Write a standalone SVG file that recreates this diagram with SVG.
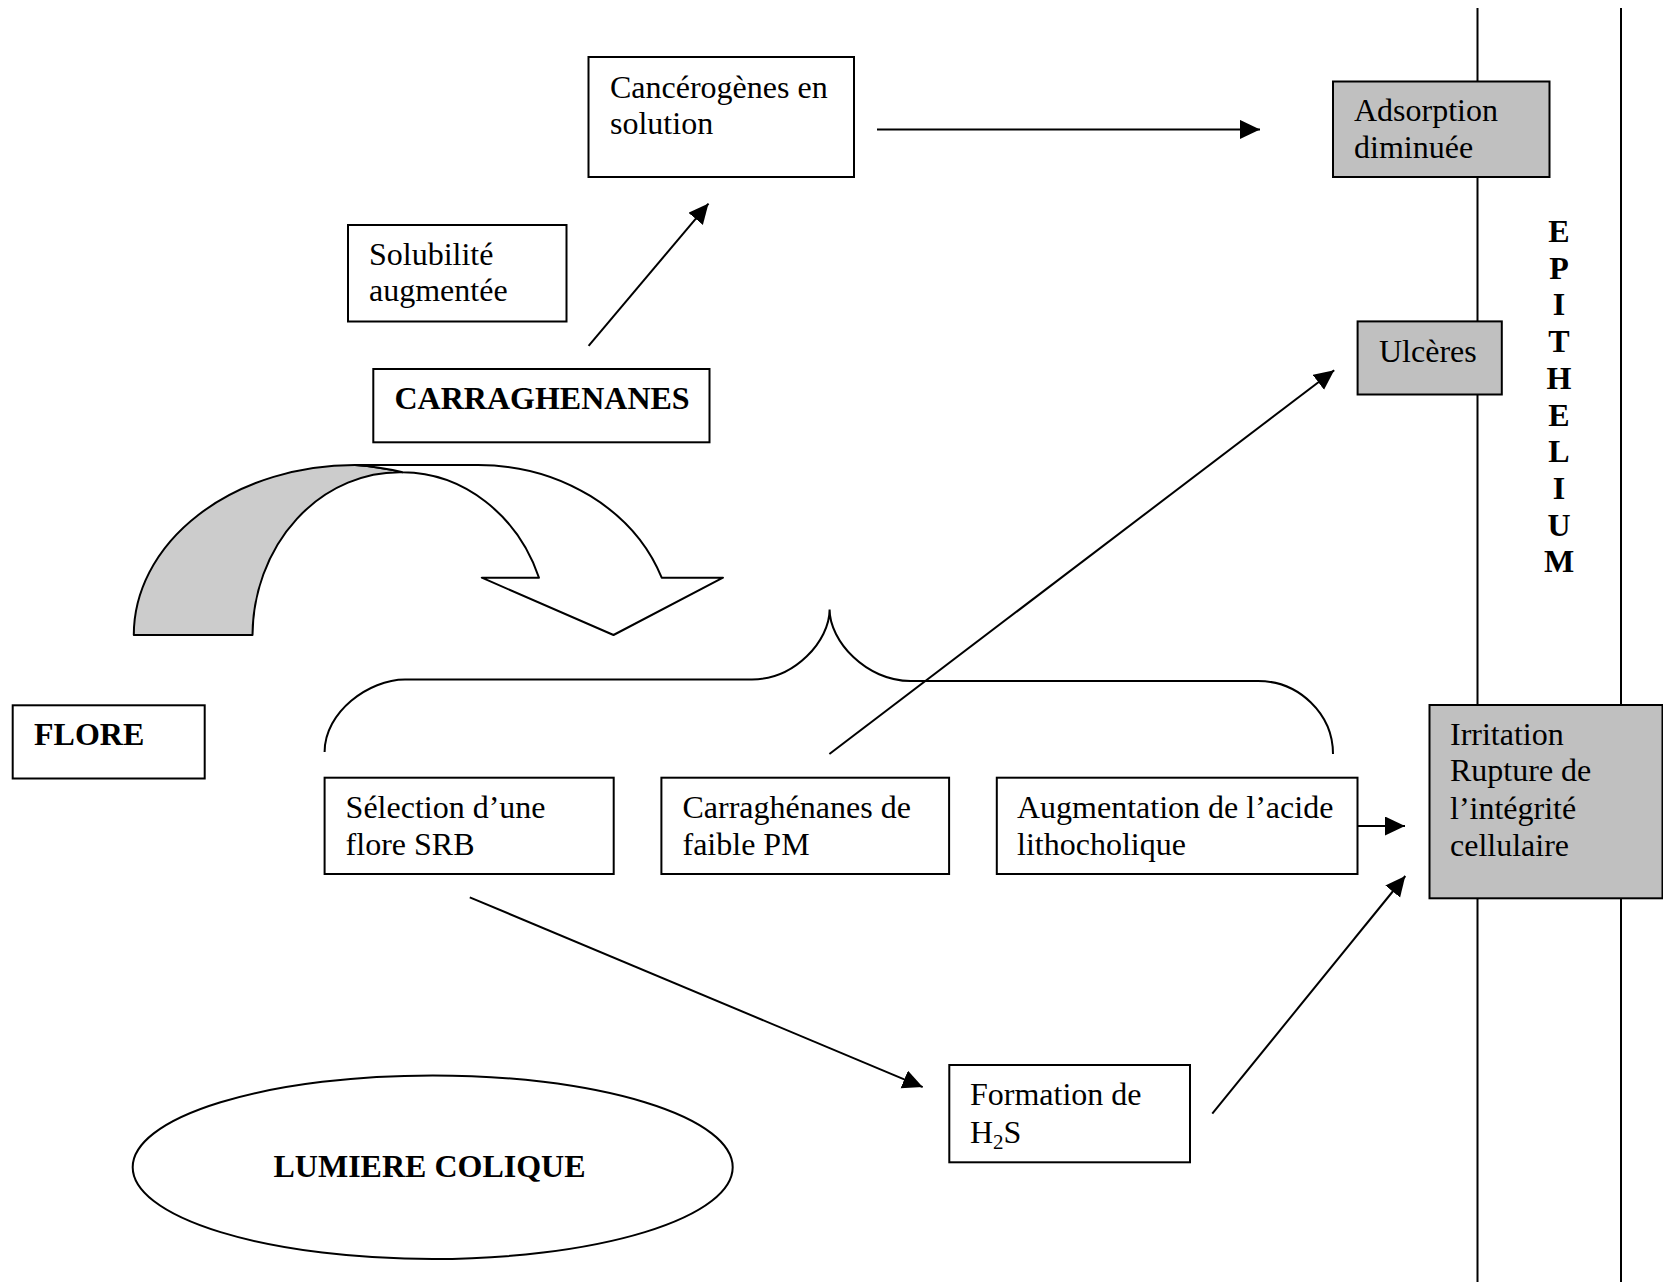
<svg xmlns="http://www.w3.org/2000/svg" width="1663" height="1282" viewBox="0 0 1663 1282">
<style>
.box{fill:#fff;stroke:#000;stroke-width:2}
.gbox{fill:#c0c0c0;stroke:#000;stroke-width:2}
.t{font-family:"Liberation Serif","Times New Roman",serif;font-size:32px;fill:#000}
.b{font-weight:bold}
.ln{stroke:#000;stroke-width:2;fill:none}
</style>
<defs>
<marker id="ah" markerUnits="userSpaceOnUse" markerWidth="22" markerHeight="20" refX="20" refY="9.5" orient="auto">
<path d="M0,0 L20,9.5 L0,19 Z" fill="#000"/>
</marker>
</defs>
<rect width="1663" height="1282" fill="#fff"/>
<g id="epithelium-lines">
<line class="ln" x1="1477.5" y1="8" x2="1477.5" y2="1282"/>
<line class="ln" x1="1621" y1="8" x2="1621" y2="1282"/>
</g>
<g id="curved-arrow">
<path d="M133.8,635 A221,170 0 0 1 355,465 A221,170 0 0 1 402.7,472.3 A147,164 0 0 0 252.5,635 Z" fill="#cccccc" stroke="#000" stroke-width="2" stroke-linejoin="round"/>
<path d="M355,465 L478,465 A195,170 0 0 1 661.7,577.7 L723,577.7 L613.5,635 L481.8,577.7 L539,577.7 A147,164 0 0 0 402.7,472.3 A221,170 0 0 0 355,465 Z" fill="#fff" stroke="#000" stroke-width="2" stroke-linejoin="round"/>
</g>
<g id="brace">
<path class="ln" d="M324.6,752 C324.6,712 368.8,679.5 405,679.5 L752,679.5 C794.7,679.5 829.6,641 829.6,609.5 C829.6,641 866,681 910.5,681 L1258,681 C1299,681 1333,714 1333,754"/>
</g>
<g id="connectors">
<line class="ln" x1="877" y1="129.4" x2="1260" y2="129.4" marker-end="url(#ah)"/>
<line class="ln" x1="588.6" y1="345.8" x2="708.5" y2="203.6" marker-end="url(#ah)"/>
<line class="ln" x1="829.4" y1="754" x2="1334.2" y2="370.2" marker-end="url(#ah)"/>
<line class="ln" x1="1358" y1="826" x2="1405" y2="826" marker-end="url(#ah)"/>
<line class="ln" x1="469.8" y1="897.3" x2="922.7" y2="1087.1" marker-end="url(#ah)"/>
<line class="ln" x1="1212.3" y1="1113.6" x2="1405.3" y2="876" marker-end="url(#ah)"/>
</g>
<g id="cancerogenes">
<rect class="box" x="588.5" y="57" width="265.5" height="120"/>
<text class="t" x="610" y="97.5">Cancérogènes en</text>
<text class="t" x="610" y="133.5">solution</text>
</g>
<g id="adsorption">
<rect class="gbox" x="1333" y="81.5" width="216.5" height="95.5"/>
<text class="t" x="1354" y="121">Adsorption</text>
<text class="t" x="1354" y="158">diminuée</text>
</g>
<g id="solubilite">
<rect class="box" x="348" y="225" width="218.5" height="96.5"/>
<text class="t" x="369" y="265">Solubilité</text>
<text class="t" x="369" y="301">augmentée</text>
</g>
<g id="carraghenanes">
<rect class="box" x="373.3" y="369" width="336.2" height="73.3"/>
<text class="t b" x="394.5" y="409">CARRAGHENANES</text>
</g>
<g id="ulceres">
<rect class="gbox" x="1357.6" y="321.4" width="144.2" height="73.1"/>
<text class="t" x="1379" y="361.7">Ulcères</text>
</g>
<g id="epithelium-label" class="t b" text-anchor="middle">
<text x="1559" y="242">E</text>
<text x="1559" y="278.7">P</text>
<text x="1559" y="315.4">I</text>
<text x="1559" y="352.1">T</text>
<text x="1559" y="388.8">H</text>
<text x="1559" y="425.5">E</text>
<text x="1559" y="462.2">L</text>
<text x="1559" y="498.9">I</text>
<text x="1559" y="535.6">U</text>
<text x="1559" y="572.3">M</text>
</g>
<g id="flore">
<rect class="box" x="12.7" y="705.3" width="192" height="73.2"/>
<text class="t b" x="34" y="744.5">FLORE</text>
</g>
<g id="selection">
<rect class="box" x="324.6" y="777.7" width="289.1" height="96.3"/>
<text class="t" x="345.6" y="818">Sélection d’une</text>
<text class="t" x="345.6" y="855">flore SRB</text>
</g>
<g id="faible-pm">
<rect class="box" x="661.4" y="777.7" width="287.7" height="96.3"/>
<text class="t" x="682.5" y="818">Carraghénanes de</text>
<text class="t" x="682.5" y="855">faible PM</text>
</g>
<g id="lithocholique">
<rect class="box" x="996.8" y="777.7" width="360.7" height="96.3"/>
<text class="t" x="1017" y="818">Augmentation de l’acide</text>
<text class="t" x="1017" y="855">lithocholique</text>
</g>
<g id="irritation">
<rect class="gbox" x="1429.5" y="705" width="233" height="193.3"/>
<text class="t" x="1450" y="745">Irritation</text>
<text class="t" x="1450" y="781">Rupture de</text>
<text class="t" x="1450" y="818.5">l’intégrité</text>
<text class="t" x="1450" y="856">cellulaire</text>
</g>
<g id="formation">
<rect class="box" x="949.3" y="1065" width="240.7" height="97.3"/>
<text class="t" x="970" y="1105">Formation de</text>
<text class="t" x="970" y="1142.7">H<tspan font-size="21" dy="6">2</tspan><tspan dy="-6">S</tspan></text>
</g>
<g id="lumiere">
<ellipse cx="432.7" cy="1167.2" rx="300" ry="91.8" fill="#fff" stroke="#000" stroke-width="2"/>
<text class="t b" x="429.5" y="1177" text-anchor="middle">LUMIERE COLIQUE</text>
</g>
</svg>
